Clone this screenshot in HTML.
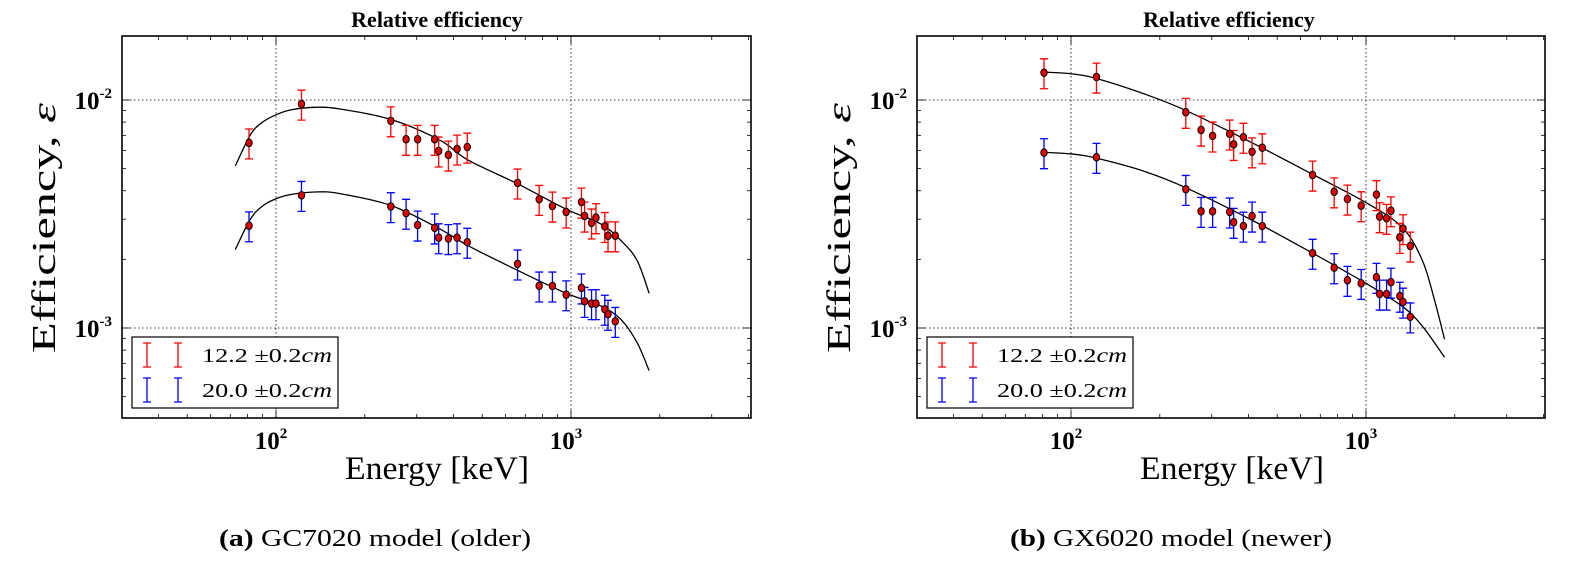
<!DOCTYPE html>
<html><head><meta charset="utf-8">
<style>
body{margin:0;background:#fff;width:1590px;height:569px;overflow:hidden;}
svg{position:absolute;left:0;top:0;}
text{font-family:"Liberation Serif",serif;}
</style></head>
<body>
<svg id="fig" width="1590" height="569" xmlns="http://www.w3.org/2000/svg">
  <text x="437" y="27" text-anchor="middle" font-size="22" font-weight="bold">Relative efficiency</text>
  <text x="1229" y="27" text-anchor="middle" font-size="22" font-weight="bold">Relative efficiency</text>
  <text x="0" y="0" transform="translate(55,228) rotate(-90)" text-anchor="middle" font-size="34" textLength="250" lengthAdjust="spacingAndGlyphs">Efficiency, <tspan font-style="italic">ε</tspan></text>
  <text x="0" y="0" transform="translate(850,228) rotate(-90)" text-anchor="middle" font-size="34" textLength="250" lengthAdjust="spacingAndGlyphs">Efficiency, <tspan font-style="italic">ε</tspan></text>
  <text x="437" y="479" text-anchor="middle" font-size="33" textLength="184" lengthAdjust="spacingAndGlyphs">Energy [keV]</text>
  <text x="1232" y="479" text-anchor="middle" font-size="33" textLength="184" lengthAdjust="spacingAndGlyphs">Energy [keV]</text>
  <text x="375" y="546" text-anchor="middle" font-size="24" textLength="312" lengthAdjust="spacingAndGlyphs"><tspan font-weight="bold">(a)</tspan> GC7020 model (older)</text>
  <text x="1171" y="546" text-anchor="middle" font-size="24" textLength="322" lengthAdjust="spacingAndGlyphs"><tspan font-weight="bold">(b)</tspan> GX6020 model (newer)</text>
</svg>
<script>
const energies = [81,122,245,276,302,345,356,384,411,445,659,780,865,963,1085,1112,1174,1215,1302,1335,1413];
const leftRed  = [0.00649,0.0096,0.00811,0.00673,0.00673,0.00673,0.00598,0.00574,0.0061,0.00622,0.00433,0.00367,0.00343,0.00323,0.00357,0.0031,0.00289,0.00305,0.00279,0.00254,0.00254];
const leftBlue = [0.00281,0.00382,0.00341,0.00319,0.00283,0.00275,0.00249,0.00247,0.00249,0.00238,0.00191,0.00153,0.00153,0.0014,0.0015,0.00131,0.00128,0.00128,0.00121,0.00115,0.00107];
const rightRed = [0.01318,0.01262,0.00884,0.00739,0.00696,0.0071,0.00639,0.00687,0.00593,0.00618,0.00469,0.00396,0.00368,0.00344,0.00385,0.00308,0.00303,0.00327,0.0025,0.00273,0.00229];
const rightBlue= [0.00588,0.00561,0.00406,0.00325,0.00325,0.00323,0.00291,0.0028,0.0031,0.0028,0.00213,0.00184,0.00162,0.00157,0.00167,0.00141,0.00141,0.00159,0.00138,0.0013,0.00112];
const relErr = 0.15;
const leftFitE = [72.8,82,90.1,100,112.3,135.6,163.8,244.8,359,447,659,963,1262,1476,1674,1840];
const leftFitRed = [0.00514,0.00706,0.0080,0.00861,0.00905,0.00929,0.00914,0.00822,0.00667,0.00546,0.00429,0.00332,0.00286,0.00242,0.00198,0.00142];
const leftFitBlue = [0.00221,0.00301,0.00343,0.00369,0.00385,0.00395,0.00389,0.00345,0.00272,0.0023,0.00179,0.00142,0.00125,0.00109,0.000864,0.00065];
const rightFitE = [78.8,100,122.3,177.7,245.5,415,663,1000,1327,1552,1706,1846];
const rightFitRed = [0.01327,0.01304,0.01241,0.01062,0.00899,0.00645,0.0047,0.00355,0.00276,0.00198,0.00133,0.000893];
const rightFitBlue = [0.0059,0.0058,0.00555,0.00486,0.00412,0.00295,0.00212,0.00157,0.001245,0.00102,0.000744];
const rightFitEBlue = [78.8,100,122.3,177.7,245.5,415,663,1000,1327,1552,1846];
const yTickVals = [0.01,0.001];
const yTickLabels = ["-2","-3"];
const xTickVals = [100,1000];
const xTickLabels = ["2","3"];

const NS="http://www.w3.org/2000/svg";
const svg=document.getElementById('fig');
function mk(tag,attrs,parent){const e=document.createElementNS(NS,tag);for(const k in attrs)e.setAttribute(k,attrs[k]);(parent||svg).appendChild(e);return e;}

function drawPanel(side,x0,x1,fitE,fitR,fitEB,fitB,red,blue){
  const top=36,bot=418;
  const gx100 = x0+154;
  const dec=295, ydec=228, y2=100;
  const X=e=>gx100+(Math.log10(e)-2)*dec;
  const Y=v=>y2-(Math.log10(v)+2)*ydec;
  const g=mk('g',{});
  
  
  xTickVals.forEach((v,i)=>{
    const l=mk('line',{x1:X(v),x2:X(v),y1:top,y2:bot,stroke:'#000','stroke-width':0.8,'stroke-dasharray':'1.5,2.5'},g);
    
    
    const t=mk('text',{x:X(v)-5,y:449,'text-anchor':'middle','font-size':25,'font-weight':'bold'},g);
    
    
    t.textContent='10';
    const s=mk('tspan',{dy:-11,'font-size':15},t);s.textContent=xTickLabels[i];
  });
  yTickVals.forEach((v,i)=>{
    const l=mk('line',{x1:x0,x2:x1,y1:Y(v),y2:Y(v),stroke:'#000','stroke-width':0.8,'stroke-dasharray':'1.5,2.5'},g);
    
    
    const t=mk('text',{x:x0-10,y:Y(v)+9,'text-anchor':'end','font-size':25,'font-weight':'bold'},g);
    
    
    const a=mk('tspan',{},t);a.textContent='10';
    const s=mk('tspan',{dy:-11,'font-size':15},t);s.textContent=yTickLabels[i];
  });
  for(let d=1;d<=3;d++)for(let m=1;m<=9;m++){
    const e=m*Math.pow(10,d);const x=X(e);if(x<x0||x>x1)continue;
    const len=m===1?8:4;
    mk('line',{x1:x,x2:x,y1:bot,y2:bot-len,stroke:'#000','stroke-width':0.8},g);
    mk('line',{x1:x,x2:x,y1:top,y2:top+len,stroke:'#000','stroke-width':0.8},g);
  }
  for(let d=-4;d<=-2;d++)for(let m=1;m<=9;m++){
    const v=m*Math.pow(10,d);const y=Y(v);if(y<top||y>bot)continue;
    const len=m===1?8:4;
    mk('line',{x1:x0,x2:x0+len,y1:y,y2:y,stroke:'#000','stroke-width':0.8},g);
    mk('line',{x1:x1,x2:x1-len,y1:y,y2:y,stroke:'#000','stroke-width':0.8},g);
  }
  function curve(E,V,name){
    const p=E.map((e,i)=>[X(e),Y(V[i])]);
    let d='M'+p[0][0]+','+p[0][1];
    for(let i=0;i<p.length-1;i++){
      const a=p[Math.max(0,i-1)],b=p[i],c=p[i+1],f=p[Math.min(p.length-1,i+2)];
      d+=' C'+(b[0]+(c[0]-a[0])/6)+','+(b[1]+(c[1]-a[1])/6)+' '+(c[0]-(f[0]-b[0])/6)+','+(c[1]-(f[1]-b[1])/6)+' '+c[0]+','+c[1];
    }
    const pa=mk('path',{d:d,fill:'none',stroke:'#000','stroke-width':1.3},g);
    
    
  }
  curve(fitE,fitR,side+'-fit-curve-12cm');
  curve(fitEB,fitB,side+'-fit-curve-20cm');
  function series(vals,col,name){
    vals.forEach((v,i)=>{
      const x=X(energies[i]);
      const yu=Y(v*(1+relErr)), yd=Y(v*(1-relErr));
      const eb=mk('path',{d:`M${x},${yu}V${yd}M${x-4},${yu}H${x+4}M${x-4},${yd}H${x+4}`,stroke:col,'stroke-width':1.3,fill:'none'},g);
      
      
    });
    vals.forEach((v,i)=>{
      const c=mk('ellipse',{cx:X(energies[i]),cy:Y(v),rx:3.2,ry:3.8,fill:'#e00000',stroke:'#000','stroke-width':1},g);
      
      
    });
  }
  series(red,'#ff0000',side+'-12cm');
  series(blue,'#0000ff',side+'-20cm');
  const fr=mk('rect',{x:x0,y:top,width:x1-x0,height:bot-top,fill:'none',stroke:'#000','stroke-width':1.6},g);
  
  
  const lg=mk('g',{},g);
  
  
  mk('rect',{x:x0+10,y:337,width:206,height:71,fill:'#fff',stroke:'#000','stroke-width':1.2},lg);
  [['#ff0000','12.2',355],['#0000ff','20.0',390]].forEach(([col,lab,y])=>{
    [x0+25,x0+56].forEach(xx=>{
      mk('path',{d:`M${xx},${y-12}V${y+12}M${xx-4},${y-12}H${xx+4}M${xx-4},${y+12}H${xx+4}`,stroke:col,'stroke-width':1.3,fill:'none'},lg);
    });
    const t=mk('text',{x:x0+80,y:y+7,'font-size':20,textLength:130,lengthAdjust:'spacingAndGlyphs'},lg);
    
    
    const a=mk('tspan',{},t);a.textContent=lab+' ±0.2';
    const b=mk('tspan',{'font-style':'italic'},t);b.textContent='cm';
  });
}
drawPanel('left',122,751,leftFitE,leftFitRed,leftFitE,leftFitBlue,leftRed,leftBlue);
drawPanel('right',917,1545,rightFitE,rightFitRed,rightFitEBlue,rightFitBlue,rightRed,rightBlue);
</script>
</body></html>
